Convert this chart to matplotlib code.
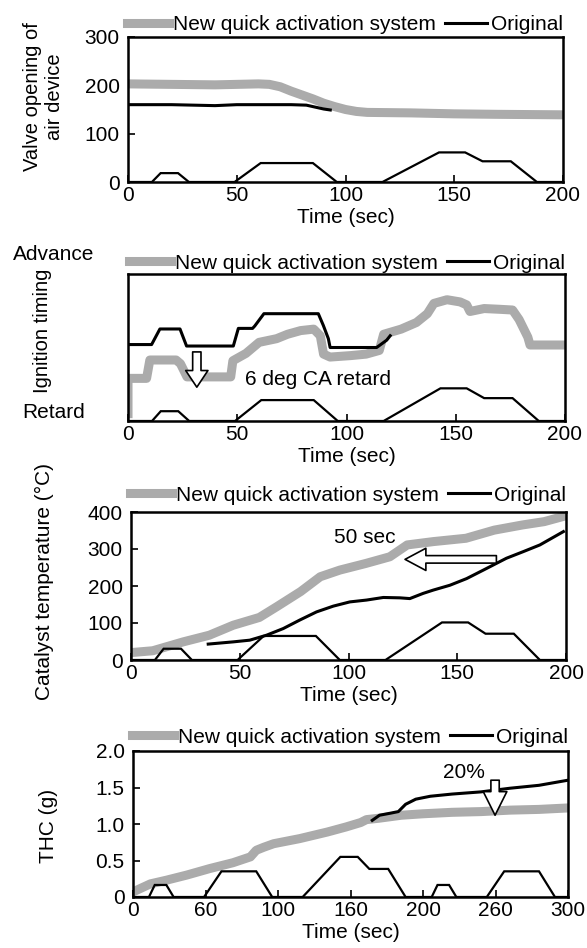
import matplotlib
matplotlib.use('Agg')
import matplotlib.pyplot as plt
from matplotlib.lines import Line2D

plt.rcParams['font.family'] = ['Liberation Sans', 'DejaVu Sans']
plt.rcParams['font.size'] = 15

GREY = '#ababab'
legend_labels = ['New quick activation system', 'Original']

# Drive cycle (vehicle speed, km/h) for the 200 s panels
cyc_t = [0, 11, 15, 23, 28, 49, 61, 85, 96, 117, 143, 155, 163, 176, 188, 200]
cyc_v = [0, 0, 15, 15, 0, 0, 32, 32, 0, 0, 50, 50, 35, 35, 0, 0]
# Drive cycle for the 300 s panel
cyc300_t = [0, 11, 15, 23, 28, 49, 61, 85, 96, 117, 143, 155, 163, 176, 188,
            206, 210, 218, 223, 244, 256, 280, 291, 300]
cyc300_v = [0, 0, 15, 15, 0, 0, 32, 32, 0, 0, 50, 50, 35, 35, 0,
            0, 15, 15, 0, 0, 32, 32, 0, 0]

# Panel 1: valve opening of air device
valve_new_t = [0, 20, 40, 60, 65, 70, 75, 80, 85, 90, 95, 100, 105, 110, 130, 150, 170, 200]
valve_new_v = [203, 202, 201, 203, 202, 197, 188, 180, 172, 163, 156, 150, 146, 144, 143, 141, 140, 139]
valve_org_t = [0, 20, 40, 50, 60, 75, 82, 86, 90, 93]
valve_org_v = [160, 160, 158, 160, 160, 160, 159, 155, 151, 149]

# Panel 2: ignition timing (relative scale)
ign_new_t = [0, 0, 8.5, 10, 22, 24, 27, 47, 48, 54, 60, 68, 73, 79, 85, 88, 89.5, 92.5,
             102, 109, 115, 117, 125, 132, 137, 140, 146, 152, 155, 156.5, 163, 170,
             176, 179, 183, 184, 200]
ign_new_v = [5, 29, 29, 41.5, 41.5, 39, 30, 30, 41, 46, 53.5, 56, 59, 61.5, 62.5, 58, 45.5, 43.5,
             44.5, 45.5, 48, 59, 62.5, 67, 73, 80, 82.5, 81, 79, 74.5, 76.5, 76,
             75.5, 69, 57, 51.7, 51.7]
ign_org_t = [0, 10.8, 14.6, 23.8, 26.8, 48.2, 50.5, 57, 58, 62.2, 87.1, 89.4, 91.7, 92.5,
             113.8, 118.4, 120]
ign_org_v = [52, 52, 62.6, 62.6, 51, 51, 63, 63, 64.6, 73, 73, 65, 56, 50,
             50, 55, 58]

# Panel 3: catalyst temperature (degC)
cat_new_t = [0, 10, 24, 36, 47, 59, 67, 78, 87, 96, 108, 119, 127, 139, 154, 167, 180, 190, 200]
cat_new_v = [20, 25, 49, 67, 94, 115, 144, 185, 225, 243, 261, 279, 311, 320, 329, 351, 365, 374, 390]
cat_org_t = [35.5, 47, 54.6, 62.3, 70, 77.6, 85.3, 93, 100.6, 108.3, 116, 123.6, 128.2,
             134.3, 139, 146.6, 154.3, 162, 172.6, 180.4, 188, 198.8]
cat_org_v = [43, 49, 53.6, 67, 85, 108, 130, 145.6, 157, 162, 169, 168, 166,
             180, 189, 202, 220, 243, 275, 293, 311, 347]

# Panel 4: THC (g)
thc_new_t = [0, 12, 23, 37, 53, 69, 81, 85, 90, 97, 115, 134, 147, 157, 161, 170, 185,
             200, 220, 240, 260, 280, 300]
thc_new_v = [0.07, 0.18, 0.23, 0.30, 0.39, 0.47, 0.55, 0.64, 0.68, 0.73, 0.80, 0.89, 0.96,
             1.02, 1.06, 1.08, 1.12, 1.14, 1.16, 1.17, 1.19, 1.20, 1.22]
thc_org_t = [165, 170, 178, 183, 188, 195, 205, 220, 240, 260, 280, 300]
thc_org_v = [1.05, 1.12, 1.15, 1.17, 1.27, 1.34, 1.38, 1.41, 1.44, 1.49, 1.53, 1.60]

W, H = 587, 948
fig = plt.figure(figsize=(W / 100, H / 100), dpi=100)


def px_axes(l, r, t, b):
    return fig.add_axes([l / W, 1 - b / H, (r - l) / W, (b - t) / H])


def style(ax, xlim, xticks, xlabels, legend_dy):
    ax.set_xlim(*xlim)
    ax.set_xticks(xticks)
    ax.set_xticklabels(xlabels)
    for s in ax.spines.values():
        s.set_linewidth(1.8)
    ax.tick_params(direction='in', length=5, width=1.2)
    ax.tick_params(axis='x', pad=3)
    ax.tick_params(axis='y', pad=6)
    ax.set_xlabel('Time (sec)', labelpad=2)
    h = [Line2D([], [], color=GREY, lw=6.5), Line2D([], [], color='black', lw=2.2)]
    ax.legend(h, legend_labels, loc='lower right', bbox_to_anchor=(1.0, 1.0 + legend_dy),
              ncol=2, frameon=False, handlelength=2.0, handletextpad=0.2,
              columnspacing=0.45, borderaxespad=0, borderpad=0)


def speed(ax, t, v, vmax):
    ax2 = ax.twinx()
    ax2.plot(t, v, color='black', lw=1.6, solid_joinstyle='miter')
    ax2.set_ylim(0, vmax)
    ax2.set_yticks([])
    for s in ax2.spines.values():
        s.set_visible(False)
    return ax2


ARROW = dict(fc='white', ec='black', lw=1.2, shrinkA=0, shrinkB=0, mutation_scale=20)

# ---- Panel 1
ax1 = px_axes(128, 563, 37, 182)
ax1.plot(valve_org_t, valve_org_v, color='black', lw=2.2, zorder=3)
ax1.plot(valve_new_t, valve_new_v, color=GREY, lw=6.5, zorder=2)
ax1.set_ylim(0, 300)
ax1.set_yticks([0, 100, 200, 300])
style(ax1, (0, 200), [0, 50, 100, 150, 200], ['0', '50', '100', '150', '200'], 0.02)
speed(ax1, cyc_t, cyc_v, 245)
fig.text(43 / W, 1 - 97 / H, 'Valve opening of\nair device', rotation=90,
         ha='center', va='center', linespacing=1.2, fontsize=14.5)

# ---- Panel 2
ax2 = px_axes(128, 565, 274, 421)
ax2.plot(ign_new_t, ign_new_v, color=GREY, lw=6.5, zorder=2)
ax2.plot(ign_org_t, ign_org_v, color='black', lw=2.2, zorder=3)
ax2.set_ylim(0, 100)
ax2.set_yticks([])
style(ax2, (0, 200), [0, 50, 100, 150, 200], ['0', '50', '100', '150', '200'], 0.01)
speed(ax2, cyc_t, cyc_v, 225)
ax2.annotate('', xy=(31.5, 23), xytext=(31.5, 47),
             arrowprops=dict(arrowstyle='simple,head_length=0.6,head_width=0.8,tail_width=0.3',
                             **ARROW))
ax2.text(53.5, 28, '6 deg CA retard', ha='left', va='center')
fig.text(43 / W, 1 - 331 / H, 'Ignition timing', rotation=90, ha='center', va='center',
         fontsize=14.5)
fig.text(54 / W, 1 - 254 / H, 'Advance', ha='center', va='center')
fig.text(54 / W, 1 - 413 / H, 'Retard', ha='center', va='center')

# ---- Panel 3
ax3 = px_axes(131, 566, 512, 660)
ax3.plot(cat_new_t, cat_new_v, color=GREY, lw=6.5, zorder=2)
ax3.plot(cat_org_t, cat_org_v, color='black', lw=2.2, zorder=3)
ax3.set_ylim(0, 400)
ax3.set_yticks([0, 100, 200, 300, 400])
style(ax3, (0, 200), [0, 50, 100, 150, 200], ['0', '50', '100', '150', '200'], 0.05)
speed(ax3, cyc_t, cyc_v, 197)
ax3.annotate('', xy=(126, 272), xytext=(168, 272),
             arrowprops=dict(arrowstyle='simple,head_length=0.75,head_width=0.8,tail_width=0.27',
                             **ARROW))
ax3.text(107.5, 330, '50 sec', ha='center', va='center')
fig.text(44 / W, 1 - 582 / H, 'Catalyst temperature (\u00b0C)', rotation=90,
         ha='center', va='center', fontsize=15)

# ---- Panel 4
ax4 = px_axes(133, 568, 751, 897)
ax4.plot(thc_new_t, thc_new_v, color=GREY, lw=6.5, zorder=2)
ax4.plot(thc_org_t, thc_org_v, color='black', lw=2.2, zorder=3)
ax4.set_ylim(0, 2.0)
ax4.set_yticks([0, 0.5, 1.0, 1.5, 2.0])
ax4.set_yticklabels(['0', '0.5', '1.0', '1.5', '2.0'])
style(ax4, (0, 300), [0, 50, 100, 150, 200, 250, 300],
      ['0', '60', '100', '160', '200', '260', '300'], 0.03)
speed(ax4, cyc300_t, cyc300_v, 182)
ax4.annotate('', xy=(249.7, 1.12), xytext=(249.7, 1.6),
             arrowprops=dict(arrowstyle='simple,head_length=0.85,head_width=0.85,tail_width=0.3',
                             **ARROW))
ax4.text(228, 1.71, '20%', ha='center', va='center')
fig.text(48 / W, 1 - 826 / H, 'THC (g)', rotation=90, ha='center', va='center')

fig.savefig('out.png', dpi=100)
